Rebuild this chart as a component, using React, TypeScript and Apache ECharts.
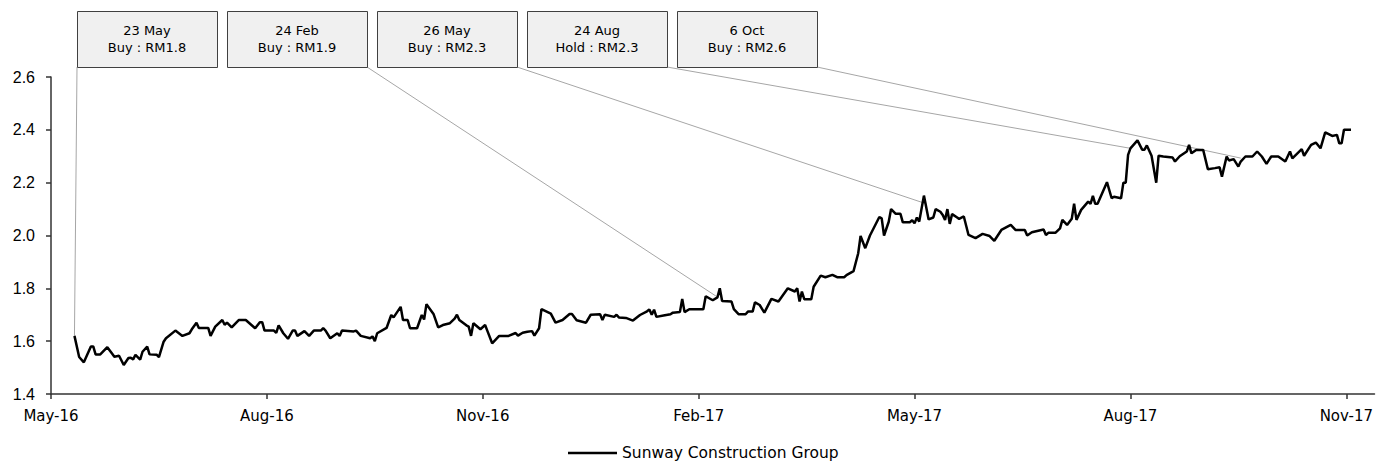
import React, { useEffect, useRef } from "react";
import * as echarts from "echarts";

const DATES: string[] = [
  "2016-05-23","2016-05-25","2016-05-27","2016-05-30","2016-05-31","2016-06-01","2016-06-03","2016-06-06","2016-06-08","2016-06-09",
  "2016-06-11","2016-06-13","2016-06-15","2016-06-16","2016-06-17","2016-06-18","2016-06-20","2016-06-21","2016-06-23","2016-06-24",
  "2016-06-27","2016-06-28","2016-06-30","2016-07-01","2016-07-05","2016-07-08","2016-07-11","2016-07-12","2016-07-14","2016-07-15",
  "2016-07-19","2016-07-20","2016-07-22","2016-07-25","2016-07-26","2016-07-27","2016-07-29","2016-08-01","2016-08-04","2016-08-08",
  "2016-08-10","2016-08-11","2016-08-12","2016-08-16","2016-08-17","2016-08-18","2016-08-20","2016-08-22","2016-08-24","2016-08-25",
  "2016-08-26","2016-08-29","2016-08-31","2016-09-02","2016-09-05","2016-09-06","2016-09-07","2016-09-09","2016-09-12","2016-09-13",
  "2016-09-14","2016-09-19","2016-09-20","2016-09-22","2016-09-26","2016-09-27","2016-09-28","2016-09-29","2016-10-03","2016-10-05",
  "2016-10-06","2016-10-09","2016-10-10","2016-10-12","2016-10-13","2016-10-16","2016-10-18","2016-10-19","2016-10-20","2016-10-23",
  "2016-10-25","2016-10-27","2016-10-30","2016-11-01","2016-11-02","2016-11-03","2016-11-06","2016-11-07","2016-11-08","2016-11-09",
  "2016-11-12","2016-11-14","2016-11-15","2016-11-17","2016-11-20","2016-11-24","2016-11-27","2016-11-28","2016-11-30","2016-12-02",
  "2016-12-04","2016-12-05","2016-12-07","2016-12-08","2016-12-12","2016-12-14","2016-12-17","2016-12-20","2016-12-21","2016-12-23",
  "2016-12-27","2016-12-29","2017-01-02","2017-01-03","2017-01-04","2017-01-08","2017-01-09","2017-01-10","2017-01-13","2017-01-16",
  "2017-01-19","2017-01-22","2017-01-23","2017-01-24","2017-01-25","2017-01-26","2017-01-29","2017-02-01","2017-02-02","2017-02-05",
  "2017-02-06","2017-02-07","2017-02-09","2017-02-15","2017-02-16","2017-02-19","2017-02-21","2017-02-22","2017-02-23","2017-02-27",
  "2017-02-28","2017-03-02","2017-03-05","2017-03-06","2017-03-08","2017-03-09","2017-03-11","2017-03-13","2017-03-16","2017-03-19",
  "2017-03-23","2017-03-26","2017-03-27","2017-03-28","2017-03-29","2017-03-30","2017-04-02","2017-04-03","2017-04-06","2017-04-08",
  "2017-04-11","2017-04-13","2017-04-16","2017-04-17","2017-04-20","2017-04-22","2017-04-23","2017-04-25","2017-04-27","2017-05-01",
  "2017-05-02","2017-05-03","2017-05-05","2017-05-06","2017-05-08","2017-05-10","2017-05-11","2017-05-14","2017-05-15","2017-05-16",
  "2017-05-17","2017-05-18","2017-05-20","2017-05-22","2017-05-24","2017-05-25","2017-05-27","2017-05-28","2017-05-29","2017-05-30",
  "2017-05-31","2017-06-01","2017-06-03","2017-06-04","2017-06-06","2017-06-08","2017-06-11","2017-06-14","2017-06-17","2017-06-19",
  "2017-06-22","2017-06-26","2017-06-28","2017-07-02","2017-07-03","2017-07-05","2017-07-10","2017-07-11","2017-07-12","2017-07-15",
  "2017-07-17","2017-07-18","2017-07-20","2017-07-22","2017-07-23","2017-07-24","2017-07-26","2017-07-29","2017-07-30","2017-07-31",
  "2017-08-01","2017-08-02","2017-08-06","2017-08-08","2017-08-09","2017-08-12","2017-08-13","2017-08-14","2017-08-15","2017-08-16",
  "2017-08-19","2017-08-21","2017-08-22","2017-08-23","2017-08-25","2017-08-27","2017-08-28","2017-08-30","2017-09-03","2017-09-04",
  "2017-09-06","2017-09-09","2017-09-10","2017-09-11","2017-09-13","2017-09-16","2017-09-18","2017-09-21","2017-09-23","2017-09-24",
  "2017-09-26","2017-09-27","2017-09-29","2017-10-01","2017-10-02","2017-10-04","2017-10-07","2017-10-09","2017-10-11","2017-10-13",
  "2017-10-15","2017-10-18","2017-10-21","2017-10-23","2017-10-24","2017-10-28","2017-10-29","2017-11-01","2017-11-03","2017-11-05",
  "2017-11-07","2017-11-10","2017-11-12","2017-11-13","2017-11-14","2017-11-15","2017-11-18",
];

const PRICES: number[] = [
  1.62,1.54,1.52,1.58,1.58,1.55,1.55,1.577,1.553,1.541,
  1.545,1.51,1.536,1.537,1.531,1.548,1.53,1.56,1.579,1.55,
  1.549,1.54,1.598,1.611,1.64,1.62,1.63,1.645,1.67,1.65,
  1.65,1.62,1.655,1.68,1.662,1.67,1.652,1.68,1.68,1.649,
  1.672,1.672,1.64,1.64,1.631,1.66,1.63,1.609,1.64,1.64,
  1.62,1.638,1.62,1.64,1.64,1.649,1.64,1.611,1.63,1.62,
  1.64,1.637,1.64,1.62,1.611,1.618,1.6,1.63,1.65,1.699,
  1.69,1.73,1.68,1.68,1.649,1.649,1.699,1.682,1.74,1.703,
  1.652,1.661,1.668,1.685,1.7,1.68,1.66,1.655,1.62,1.668,
  1.645,1.661,1.638,1.592,1.62,1.62,1.631,1.621,1.632,1.636,
  1.638,1.621,1.649,1.721,1.704,1.67,1.68,1.703,1.703,1.679,
  1.67,1.7,1.702,1.68,1.7,1.692,1.7,1.69,1.688,1.678,
  1.699,1.713,1.72,1.7,1.719,1.692,1.697,1.702,1.708,1.71,
  1.76,1.71,1.721,1.721,1.77,1.755,1.766,1.8,1.752,1.75,
  1.721,1.702,1.702,1.712,1.712,1.747,1.737,1.708,1.76,1.75,
  1.8,1.788,1.8,1.75,1.788,1.759,1.759,1.806,1.848,1.842,
  1.851,1.842,1.842,1.85,1.865,1.933,1.998,1.952,2.0,2.07,
  2.065,2.0,2.052,2.1,2.082,2.082,2.05,2.05,2.058,2.046,
  2.068,2.053,2.151,2.061,2.068,2.1,2.09,2.078,2.059,2.1,
  2.044,2.081,2.069,2.063,2.072,2.002,1.99,2.006,1.998,1.98,
  2.021,2.04,2.021,2.021,2.0,2.012,2.023,2.002,2.01,2.01,
  2.027,2.059,2.04,2.063,2.12,2.059,2.097,2.128,2.12,2.15,
  2.12,2.12,2.202,2.141,2.147,2.141,2.2,2.2,2.305,2.33,
  2.36,2.325,2.325,2.341,2.302,2.2,2.302,2.299,2.295,2.28,
  2.3,2.318,2.343,2.311,2.324,2.324,2.251,2.255,2.258,2.223,
  2.299,2.284,2.289,2.261,2.28,2.299,2.299,2.318,2.299,2.271,
  2.299,2.299,2.28,2.318,2.292,2.327,2.302,2.343,2.352,2.33,
  2.39,2.377,2.381,2.349,2.349,2.4,2.4,
];

const SERIES_NAME = "Sunway Construction Group";
const X_TICK_LABELS = ["May-16", "Aug-16", "Nov-16", "Feb-17", "May-17", "Aug-17", "Nov-17"];
const AXIS_START = "2016-05-13";
const AXIS_END = "2017-11-28";
const TICK_STEP_DAYS = 92;
const Y_MIN = 1.4;
const Y_MAX = 2.6;
const Y_STEP = 0.2;

const NOTE_DATES = ["23 May", "24 Feb", "26 May", "24 Aug", "6 Oct"];
const NOTE_CALLS = ["Buy : RM1.8", "Buy : RM1.9", "Buy : RM2.3", "Hold : RM2.3", "Buy : RM2.6"];
const NOTE_ANCHOR_DATES = ["2016-05-23", "2017-02-21", "2017-05-21", "2017-08-16", "2017-10-02"];
const NOTE_ANCHOR_PRICES = [1.62, 1.767, 2.12, 2.33, 2.293];
const NOTE_SIDES = ["left", "right", "right", "right", "right"];

const DAY_MS = 86400000;
const toDay = (s: string) => (Date.parse(s) - Date.parse(AXIS_START)) / DAY_MS;

export default function App() {
  const ref = useRef<HTMLDivElement>(null);

  useEffect(() => {
    document.body.style.margin = "0";
    const chart = echarts.init(ref.current as HTMLDivElement, null, { renderer: "svg" });
    const tickValues = X_TICK_LABELS.map((_, i) => i * TICK_STEP_DAYS);
    const labelFont = "DejaVu Sans";

    chart.setOption({
      animation: false,
      grid: { left: 51, right: 1, top: 77, bottom: 67, containLabel: false },
      legend: {
        data: [SERIES_NAME],
        left: 568,
        top: 445,
        padding: 0,
        icon: "rect",
        itemWidth: 49,
        itemHeight: 2.5,
        textStyle: { fontFamily: labelFont, fontSize: 15.5, color: "#000" },
      },
      xAxis: {
        type: "value",
        min: 0,
        max: toDay(AXIS_END),
        interval: TICK_STEP_DAYS,
        splitLine: { show: false },
        axisLine: { show: true, lineStyle: { color: "#333", width: 1.5 } },
        axisTick: {
          show: true,
          length: 5,
          customValues: tickValues,
          lineStyle: { color: "#333", width: 1.5 },
        },
        axisLabel: {
          customValues: tickValues,
          margin: 14,
          fontFamily: labelFont,
          fontSize: 15,
          color: "#000",
          formatter: (v: number) => X_TICK_LABELS[Math.round(v / TICK_STEP_DAYS)] ?? "",
        },
      },
      yAxis: {
        type: "value",
        min: Y_MIN,
        max: Y_MAX,
        interval: Y_STEP,
        splitLine: { show: false },
        axisLine: { show: true, lineStyle: { color: "#333", width: 1.5 } },
        axisTick: { show: true, length: 5, lineStyle: { color: "#333", width: 1.5 } },
        axisLabel: {
          margin: 16,
          fontFamily: "Liberation Sans",
          fontSize: 16,
          color: "#000",
          formatter: (v: number) => v.toFixed(1),
        },
      },
      series: [
        {
          name: SERIES_NAME,
          type: "line",
          data: DATES.map((d, i) => [toDay(d), PRICES[i]]),
          showSymbol: false,
          symbol: "none",
          lineStyle: { color: "#000", width: 2.5 },
          itemStyle: { color: "#000" },
          z: 3,
        },
      ],
    });

    const BOX_LEFT = 77;
    const BOX_TOP = 11;
    const BOX_W = 140;
    const BOX_H = 56;
    const BOX_GAP = 10;
    const graphics: any[] = [];
    NOTE_DATES.forEach((label, i) => {
      const bx = BOX_LEFT + i * (BOX_W + BOX_GAP);
      const p = chart.convertToPixel({ gridIndex: 0 }, [toDay(NOTE_ANCHOR_DATES[i]), NOTE_ANCHOR_PRICES[i]]) as number[];
      const sx = NOTE_SIDES[i] === "left" ? bx : bx + BOX_W;
      graphics.push({
        type: "line",
        z: 1,
        shape: { x1: sx, y1: BOX_TOP + BOX_H, x2: p[0], y2: p[1] },
        style: { stroke: "#a6a6a6", lineWidth: 1 },
      });
      graphics.push({
        type: "rect",
        z: 10,
        shape: { x: bx + 0.5, y: BOX_TOP + 0.5, width: BOX_W, height: BOX_H },
        style: { fill: "#f0f0f0", stroke: "#404040", lineWidth: 1 },
      });
      graphics.push({
        type: "text",
        z: 11,
        x: bx + BOX_W / 2,
        y: BOX_TOP + BOX_H / 2,
        style: {
          text: label + "\n" + NOTE_CALLS[i],
          align: "center",
          verticalAlign: "middle",
          fontFamily: labelFont,
          fontSize: 13,
          lineHeight: 17,
          fill: "#000",
        },
      });
    });
    chart.setOption({ graphic: graphics });

    return () => chart.dispose();
  }, []);

  return <div ref={ref} style={{ width: 1376, height: 461 }} />;
}
